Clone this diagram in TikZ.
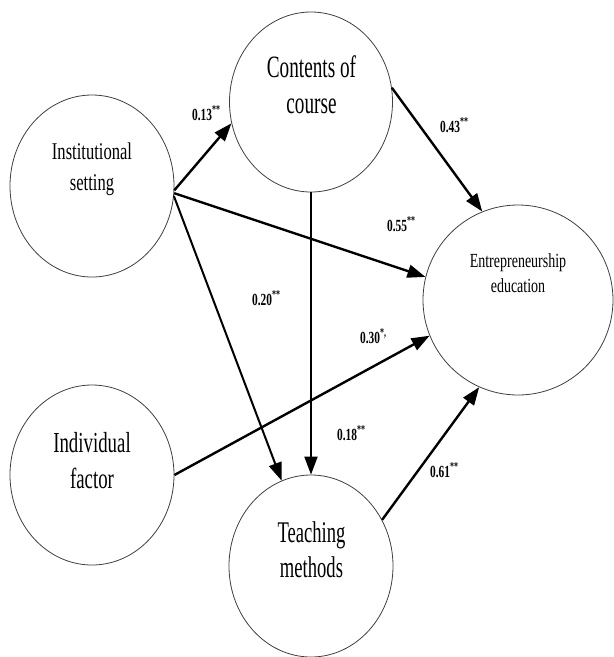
\documentclass[tikz,border=0pt]{standalone}
\usepackage{fontspec}
\setmainfont{Liberation Serif}
\usetikzlibrary{arrows.meta,shapes.geometric}
\newcommand\sqz[3]{\scalebox{#2}[1]{\fontsize{#1}{#1}\selectfont #3}}
\newcommand\edgelab[2]{\scalebox{0.67}[1]{\fontsize{17}{17}\selectfont\bfseries #1\textsuperscript{#2}}}
\tikzset{
  var/.style={draw=black!75, line width=0.8pt, ellipse, inner sep=0pt},
  txt/.style={anchor=base, inner sep=0pt},
  lab/.style={anchor=base west, inner sep=0pt},
  arr/.style={line width=2.4pt, -{Triangle[length=18pt,width=13pt]}},
}
\begin{document}
\begin{tikzpicture}[x=1pt,y=-1pt]
\fill[white] (0,0) rectangle (614,657);
\useasboundingbox (0,0) rectangle (614,657);
% variables
\node[var, minimum width=163pt, minimum height=180pt] (cont) at (311,102) {};
\node[var, minimum width=164pt, minimum height=182pt] (inst) at (92,186) {};
\node[var, minimum width=164pt, minimum height=180pt] (ind) at (92,475) {};
\node[var, minimum width=164pt, minimum height=182pt] (teach) at (311,566) {};
\node[var, minimum width=190pt, minimum height=190pt] (ent) at (518,300) {};
% texts
\node[txt] (conta) at (311.5,77) {\sqz{31}{0.62}{Contents of}};
\node[txt] (contb) at (311.5,113) {\sqz{31}{0.62}{course}};
\node[txt] (insta) at (92,159) {\sqz{24}{0.69}{Institutional}};
\node[txt] (instb) at (92,190) {\sqz{24}{0.69}{setting}};
\node[txt] (inda) at (92,452) {\sqz{29}{0.65}{Individual}};
\node[txt] (indb) at (92,488) {\sqz{29}{0.65}{factor}};
\node[txt] (teacha) at (311.5,542) {\sqz{30}{0.62}{Teaching}};
\node[txt] (teachb) at (311.5,577) {\sqz{30}{0.62}{methods}};
\node[txt] (enta) at (518,267) {\sqz{20}{0.70}{Entrepreneurship}};
\node[txt] (entb) at (518,292) {\sqz{20}{0.70}{education}};
% connectors
\draw[arr] (inst.-3) -- (cont.195);
\draw[arr] (inst.-5) -- (ent.166);
\draw[arr, line width=2pt] (inst.-7) -- (teach.109);
\draw[arr, line width=2pt] (cont.south) -- (teach.north);
\draw[arr] (cont.10) -- (ent.112);
\draw[arr] (ind.east) -- (ent.202);
\draw[arr] (teach.33) -- (ent.246);
% labels
\node[lab] (l13) at (192,120) {\edgelab{0.13}{**}};
\node[lab] (l43) at (440,132) {\edgelab{0.43}{**}};
\node[lab] (l55) at (387,231) {\edgelab{0.55}{**}};
\node[lab] (l20) at (252,305) {\edgelab{0.20}{**}};
\node[lab] (l30) at (360,343) {\edgelab{0.30}{*,}};
\node[lab] (l18) at (337,440) {\edgelab{0.18}{**}};
\node[lab] (l61) at (430,477) {\edgelab{0.61}{**}};
\end{tikzpicture}
\end{document}
